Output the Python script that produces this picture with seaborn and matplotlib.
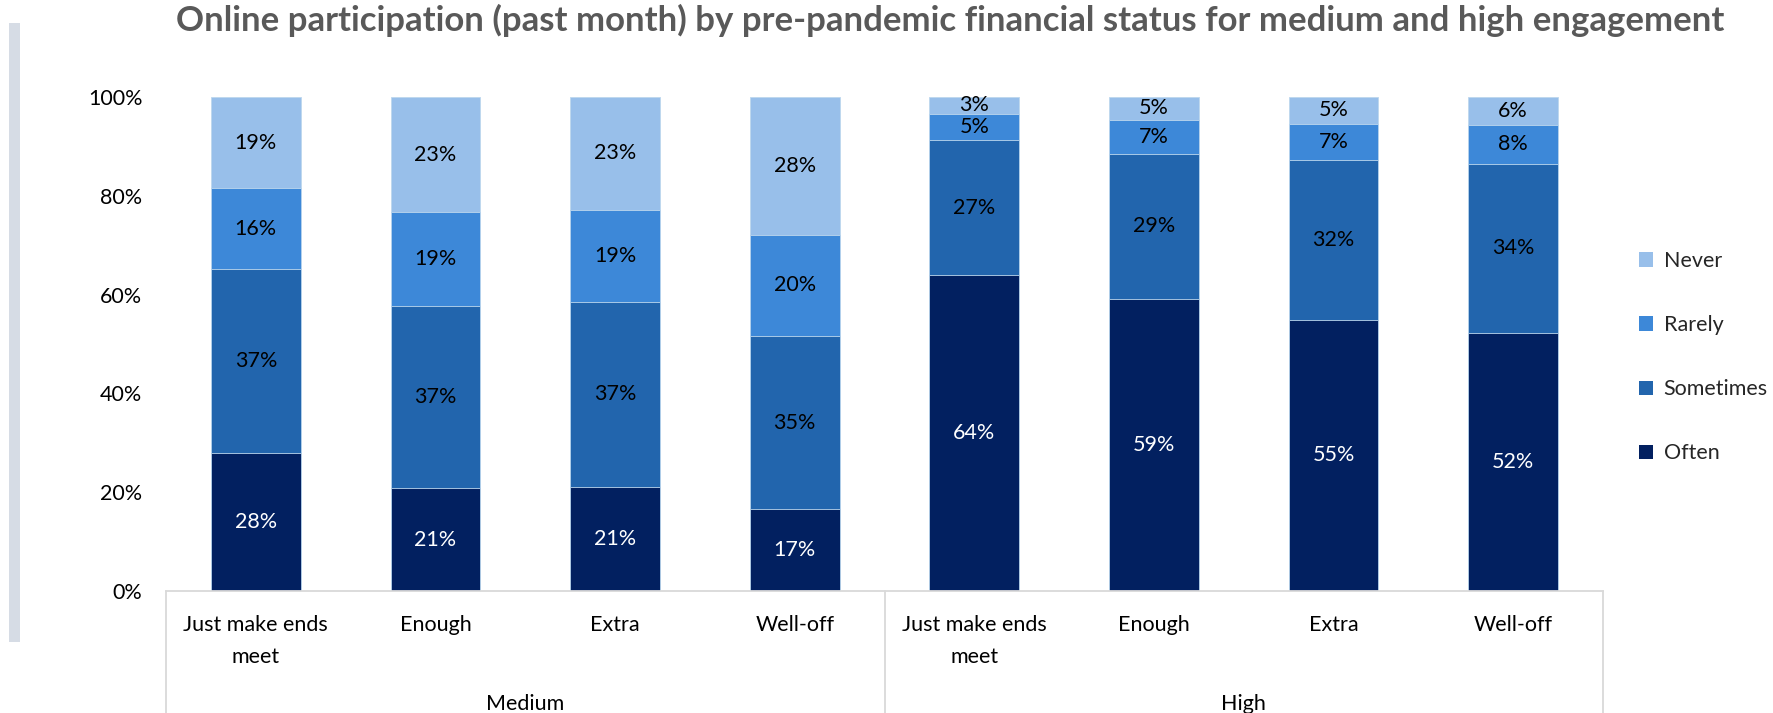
import numpy as np
import pandas as pd
import seaborn as sns
import matplotlib.pyplot as plt
from matplotlib.patches import Patch, Rectangle
from matplotlib.ticker import FuncFormatter

# ===== DATA =====
groups = ["Medium"] * 4 + ["High"] * 4
statuses = ["Just make ends\nmeet", "Enough", "Extra", "Well-off"] * 2
often = [27.9, 20.8, 21.1, 16.5, 63.9, 59.2, 54.9, 52.3]
sometimes = [37.3, 36.9, 37.4, 35.2, 27.4, 29.3, 32.4, 34.1]
rarely = [16.3, 19.0, 18.7, 20.4, 5.3, 6.9, 7.3, 8.0]
never = [18.5, 23.3, 22.8, 27.9, 3.4, 4.6, 5.4, 5.6]

series_names = ["Often", "Sometimes", "Rarely", "Never"]
series_colors = ["#022060", "#2265AD", "#3D88D8", "#98BFEA"]
label_colors = ["white", "black", "black", "black"]
group_names = ["Medium", "High"]

title = ("Online participation (past month) by pre-pandemic financial status "
         "for medium and high engagement")

# ===== FRAME =====
df = pd.DataFrame({
    "group": groups,
    "status": statuses,
    "Often": often,
    "Sometimes": sometimes,
    "Rarely": rarely,
    "Never": never,
})
df["key"] = df["group"] + "|" + df["status"]
keys = list(df["key"])
cum = df[series_names].cumsum(axis=1)

sns.set_theme(style="white")
plt.rcParams["font.family"] = ["Lato", "DejaVu Sans"]

fig = plt.figure(figsize=(17.73, 7.13), dpi=100)
ax = fig.add_axes([166 / 1773, 1 - 591 / 713, (1603 - 166) / 1773, (591 - 97) / 713])

# stacked bars: draw cumulative totals from the top series down
for name, color in reversed(list(zip(series_names, series_colors))):
    plot_df = pd.DataFrame({"key": keys, "val": cum[name] / 100})
    sns.barplot(data=plot_df, x="key", y="val", order=keys, color=color,
                saturation=1, width=0.5, errorbar=None, ax=ax,
                edgecolor="#BDD7EE", linewidth=0.6)

# data labels
fs = 15.5
for name, tcol in zip(series_names, label_colors):
    mids = (cum[name] - df[name] / 2) / 100
    for i, (m, v) in enumerate(zip(mids, df[name])):
        ax.text(i, m, f"{int(np.floor(v + 0.5))}%", ha="center", va="center",
                color=tcol, fontsize=fs)

ax.set_xlim(-0.5, 7.5)
ax.set_ylim(0, 1)
ax.set_yticks(np.arange(0, 1.01, 0.2))
ax.yaxis.set_major_formatter(FuncFormatter(lambda y, _: f"{y:.0%}"))
ax.set_xticks(range(len(keys)))
ax.set_xticklabels(statuses, linespacing=1.75)
ax.tick_params(axis="both", length=0, labelsize=fs, colors="black")
ax.tick_params(axis="y", pad=17)
ax.tick_params(axis="x", pad=17)
ax.set_xlabel("")
ax.set_ylabel("")
for s in ["top", "right", "left"]:
    ax.spines[s].set_visible(False)
ax.spines["bottom"].set_color("#D9D9D9")
ax.spines["bottom"].set_linewidth(1.3)

# multi-level category axis
trans = ax.get_xaxis_transform()
for xs in [-0.5, 3.5, 7.5]:
    ax.plot([xs, xs], [0, -0.25], color="#D9D9D9", lw=1.3, transform=trans,
            clip_on=False)
for gi, g in enumerate(group_names):
    ax.text(gi * 4 + 1.5, -0.228, g, transform=trans, ha="center", va="center",
            fontsize=fs, color="black")

# legend
handles = [Patch(facecolor=c, edgecolor="none", label=n)
           for n, c in zip(series_names, series_colors)][::-1]
fig.legend(handles=handles, loc="center left", bbox_to_anchor=(1628 / 1773, 0.499),
           frameon=False, fontsize=fs, handlelength=0.65, handleheight=0.65,
           handletextpad=0.5, labelspacing=2.05, borderpad=0)

# title and left decoration
fig.text(950 / 1773, 1 - 20 / 713, title, ha="center", va="center",
         fontsize=25, fontweight="bold", color="#595959")
fig.patches.append(Rectangle((9 / 1773, 1 - 642 / 713), 11 / 1773, 619 / 713,
                             transform=fig.transFigure, facecolor="#D6DCE5",
                             edgecolor="none"))

fig.savefig("out.png", dpi=100)
